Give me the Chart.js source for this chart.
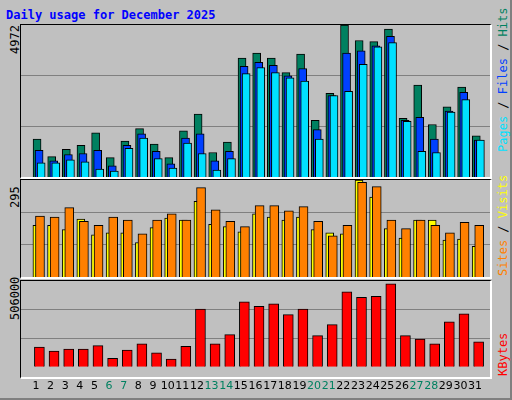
<!DOCTYPE html>
<html><head><meta charset="utf-8">
<script src="https://cdn.jsdelivr.net/npm/chart.js@4"></script>
<style>
body{margin:0;background:#fff}
#wrap{position:absolute;left:0;top:0;width:510px;height:398px;background:#c0c0c0;border-right:2px solid #808080;border-bottom:2px solid #808080;font-family:"DejaVu Sans Mono",monospace}
.panel{position:absolute;left:20px;width:469px;border-top:1px solid #000;border-left:1px solid #000;border-right:2px solid #fff;border-bottom:2px solid #fff}
canvas{position:absolute}
.rot{position:absolute;transform-origin:0 0;transform:rotate(-90deg);white-space:nowrap;font-size:12px}
</style></head><body>
<div id="wrap">
  <div style="position:absolute;left:6px;top:8px;color:#0000ff;font-weight:bold;font-size:12px">Daily usage for December 2025</div>
  <div class="panel" style="top:24px;height:152px"></div>
  <div class="panel" style="top:179px;height:97px"></div>
  <div class="panel" style="top:280px;height:96px"></div>
  <div class="rot" style="left:8px;top:54px;color:#000">4972</div>
  <div class="rot" style="left:8px;top:208px;color:#000">295</div>
  <div class="rot" style="left:8px;top:320px;color:#000">506000</div>
  <div class="rot" style="left:496px;top:152px"><span style="color:#00e0ff">Pages</span> / <span style="color:#0040ff">Files</span> / <span style="color:#008060">Hits</span></div>
  <div class="rot" style="left:496px;top:276px"><span style="color:#ff8000">Sites</span> / <span style="color:#ffff00">Visits</span></div>
  <div class="rot" style="left:496px;top:376px;color:#ff0000">KBytes</div>
  <canvas id="c1" style="left:21px;top:25px" width="469" height="152"></canvas>
  <canvas id="c2" style="left:21px;top:180px" width="469" height="97"></canvas>
  <canvas id="c3" style="left:21px;top:281px" width="469" height="117"></canvas>
</div>
<script>
const days = Array.from({length:31},(_,i)=>i+1);
const weekend = [6,7,13,14,20,21,27,28];
const hits  = [1243,667,904,1040,1446,633,1175,1582,1074,633,1514,2057,802,1141,3887,4057,3887,3413,4023,1853,2735,4972,4464,4430,4836,1921,3006,1718,2294,2938,1345];
const files = [870,531,735,768,870,362,1040,1413,836,429,1277,1413,531,836,3616,3752,3650,3311,3548,1548,2667,4057,4125,4294,4599,1853,1955,1243,2158,2769,1209];
const pages = [463,463,565,497,260,192,938,1277,599,294,1107,768,226,599,3379,3582,3413,3243,3141,1243,2667,2802,3684,4260,4396,1819,836,802,2124,2531,1209];
const sites = [157,157,144,176,128,134,134,105,150,179,173,230,160,153,137,192,182,173,182,144,134,131,295,243,147,118,173,173,112,115,93];
const visits= [185,182,211,169,157,182,173,131,173,192,173,272,204,169,153,217,217,201,214,169,125,157,288,275,173,147,173,157,134,166,157];
const kbytes= [116000,93000,104000,104000,125000,50000,98000,136000,82000,45000,120000,340000,136000,190000,383000,356000,372000,308000,340000,184000,249000,442000,409000,415000,490000,184000,163000,136000,265000,313000,147000];
const yMax = [4972, 295, 506000];

const pts = (arr, off) => arr.map((v,i)=>({x:days[i]+off, y:v}));
const ds = (label, arr, off, color, w) => ({label, data:pts(arr,off), backgroundColor:color, borderColor:'#000', borderWidth:1, barThickness:w, borderSkipped:'start', grouped:false});

function opts(max, showX) {
  return {
    responsive:false, animation:false, devicePixelRatio:1,
    layout:{padding:0},
    plugins:{legend:{display:false}, tooltip:{enabled:false}},
    scales:{
      x:{type:'linear', min:0.5, max:31.5, display:showX, grid:{display:false}, border:{display:false},
         afterBuildTicks: a => { a.ticks = days.map(v=>({value:v})); },
         ticks:{autoSkip:false, maxRotation:0, padding:5, font:{family:'DejaVu Sans', size:11},
                color: c => weekend.includes(c.tick.value) ? '#008060' : '#000'}},
      y:{min:0, max:max, display:true, border:{display:false},
         grid:{color:'#808080', lineWidth:1, drawTicks:false},
         afterBuildTicks: a => { a.ticks = [max/3, 2*max/3].map(v=>({value:v})); },
         ticks:{display:false}}
    }
  };
}

// dataset 0 is drawn on top
new Chart(document.getElementById('c1'), {
  type:'bar',
  data:{datasets:[ ds('Pages',pages,0.36,'#00e0ff',8), ds('Files',files,0.22,'#0040ff',8), ds('Hits',hits,0.08,'#008060',8) ]},
  options: opts(yMax[0], false)
});
new Chart(document.getElementById('c2'), {
  type:'bar',
  data:{datasets:[ ds('Visits',visits,0.28,'#ff8000',9), ds('Sites',sites,0.07,'#ffff00',8) ]},
  options: opts(yMax[1], false)
});
new Chart(document.getElementById('c3'), {
  type:'bar',
  data:{datasets:[ ds('KBytes',kbytes,0.24,'#ff0000',10) ]},
  options: opts(yMax[2], true)
});
</script>
</body></html>
